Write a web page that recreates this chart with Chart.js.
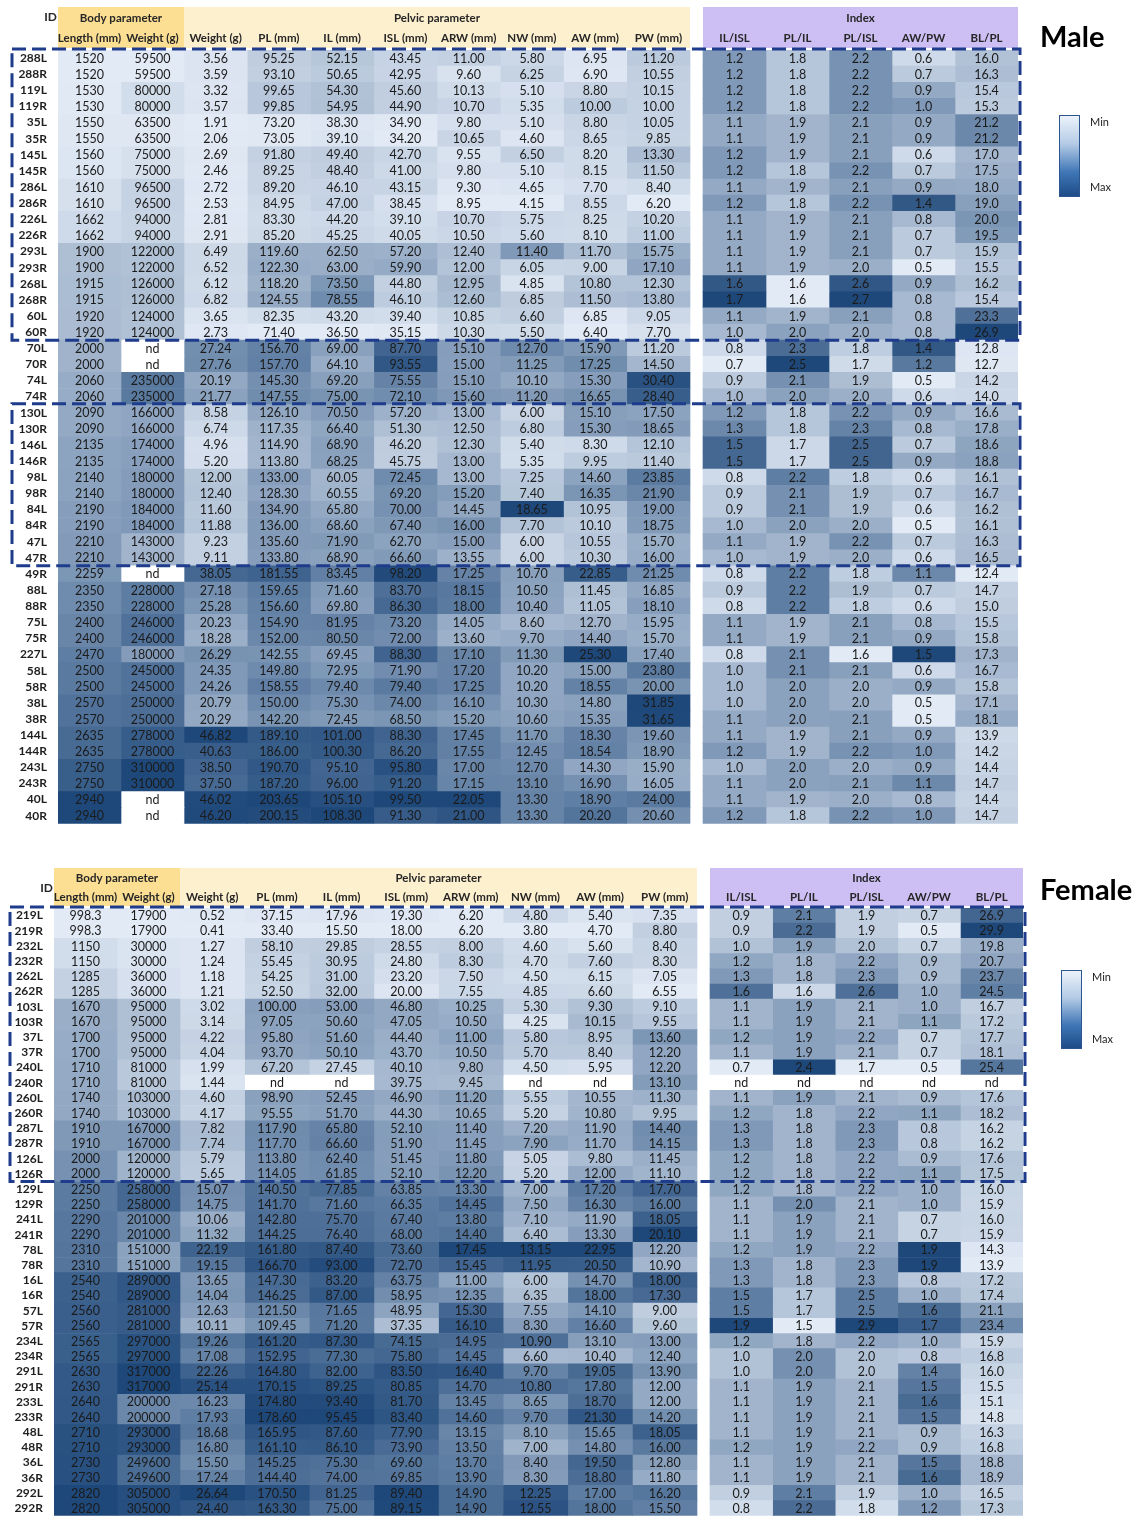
<!DOCTYPE html>
<html>
<head>
<meta charset="utf-8">
<title>Body and pelvic parameters</title>
<script src="https://cdn.jsdelivr.net/npm/chart.js@4.4.1/dist/chart.umd.min.js"></script>
<style>
  html, body { margin: 0; padding: 0; background: #ffffff; overflow: hidden; }
  body { width: 1141px; height: 1522px; position: relative; }
  canvas { position: absolute; left: 0; }
  #maleChart { top: 0; }
  #femaleChart { top: 858px; }
</style>
</head>
<body>
<canvas id="maleChart" width="1141" height="834"></canvas>
<canvas id="femaleChart" width="1141" height="668"></canvas>
<script>
// ---- Column headings ----
const groupLabels = ['Body parameter', 'Pelvic parameter', 'Index'];
const columnLabels = ['Length (mm)', 'Weight (g)', 'Weight (g)', 'PL (mm)', 'IL (mm)', 'ISL (mm)',
  'ARW (mm)', 'NW (mm)', 'AW (mm)', 'PW (mm)', 'IL/ISL', 'PL/IL', 'PL/ISL', 'AW/PW', 'BL/PL'];

// ---- Male ----
const maleIds = ['288L','288R','119L','119R','35L','35R','145L','145R','286L','286R','226L','226R',
  '293L','293R','268L','268R','60L','60R','70L','70R','74L','74R','130L','130R','146L','146R',
  '98L','98R','84L','84R','47L','47R','49R','88L','88R','75L','75R','227L','58L','58R','38L','38R',
  '144L','144R','243L','243R','40L','40R'];
const maleLength = [1520,1520,1530,1530,1550,1550,1560,1560,1610,1610,1662,1662,1900,1900,1915,1915,
  1920,1920,2000,2000,2060,2060,2090,2090,2135,2135,2140,2140,2190,2190,2210,2210,2259,2350,2350,
  2400,2400,2470,2500,2500,2570,2570,2635,2635,2750,2750,2940,2940];
const maleBodyWeight = [59500,59500,80000,80000,63500,63500,75000,75000,96500,96500,94000,94000,
  122000,122000,126000,126000,124000,124000,null,null,235000,235000,166000,166000,174000,174000,
  180000,180000,184000,184000,143000,143000,null,228000,228000,246000,246000,180000,245000,245000,
  250000,250000,278000,278000,310000,310000,null,null];
const malePelvisWeight = [3.56,3.59,3.32,3.57,1.91,2.06,2.69,2.46,2.72,2.53,2.81,2.91,6.49,6.52,6.12,
  6.82,3.65,2.73,27.24,27.76,20.19,21.77,8.58,6.74,4.96,5.20,12.00,12.40,11.60,11.88,9.23,9.11,38.05,
  27.18,25.28,20.23,18.28,26.29,24.35,24.26,20.79,20.29,46.82,40.63,38.50,37.50,46.02,46.20];
const malePL = [95.25,93.10,99.65,99.85,73.20,73.05,91.80,89.25,89.20,84.95,83.30,85.20,119.60,122.30,
  118.20,124.55,82.35,71.40,156.70,157.70,145.30,147.55,126.10,117.35,114.90,113.80,133.00,128.30,
  134.90,136.00,135.60,133.80,181.55,159.65,156.60,154.90,152.00,142.55,149.80,158.55,150.00,142.20,
  189.10,186.00,190.70,187.20,203.65,200.15];
const maleIL = [52.15,50.65,54.30,54.95,38.30,39.10,49.40,48.40,46.10,47.00,44.20,45.25,62.50,63.00,
  73.50,78.55,43.20,36.50,69.00,64.10,69.20,75.00,70.50,66.40,68.90,68.25,60.05,60.55,65.80,68.60,
  71.90,68.90,83.45,71.60,69.80,81.95,80.50,69.45,72.95,79.40,75.30,72.45,101.00,100.30,95.10,96.00,
  105.10,108.30];
const maleISL = [43.45,42.95,45.60,44.90,34.90,34.20,42.70,41.00,43.15,38.45,39.10,40.05,57.20,59.90,
  44.80,46.10,39.40,35.15,87.70,93.55,75.55,72.10,57.20,51.30,46.20,45.75,72.45,69.20,70.00,67.40,
  62.70,66.60,98.20,83.70,86.30,73.20,72.00,88.30,71.90,79.40,74.00,68.50,88.30,86.20,95.80,91.20,
  99.50,91.30];
const maleARW = [11.00,9.60,10.13,10.70,9.80,10.65,9.55,9.80,9.30,8.95,10.70,10.50,12.40,12.00,12.95,
  12.60,10.85,10.30,15.10,15.00,15.10,15.60,13.00,12.50,12.30,13.00,13.00,15.20,14.45,16.00,15.00,
  13.55,17.25,18.15,18.00,14.05,13.60,17.10,17.20,17.25,16.10,15.20,17.45,17.55,17.00,17.15,22.05,21.00];
const maleNW = [5.80,6.25,5.10,5.35,5.10,4.60,6.50,5.10,4.65,4.15,5.75,5.60,11.40,6.05,4.85,6.85,6.60,
  5.50,12.70,11.25,10.10,11.20,6.00,6.80,5.40,5.35,7.25,7.40,18.65,7.70,6.00,6.00,10.70,10.50,10.40,
  8.60,9.70,11.30,10.20,10.20,10.30,10.60,11.70,12.45,12.70,13.10,13.30,13.30];
const maleAW = [6.95,6.90,8.80,10.00,8.80,8.65,8.20,8.15,7.70,8.55,8.25,8.10,11.70,9.00,10.80,11.50,
  6.85,6.40,15.90,17.25,15.30,16.65,15.10,15.30,8.30,9.95,14.60,16.35,10.95,10.10,10.55,10.30,22.85,
  11.45,11.05,12.70,14.40,25.30,15.00,18.55,14.80,15.35,18.30,18.54,14.30,16.90,18.90,20.20];
const malePW = [11.20,10.55,10.15,10.00,10.05,9.85,13.30,11.50,8.40,6.20,10.20,11.00,15.75,17.10,12.30,
  13.80,9.05,7.70,11.20,14.50,30.40,28.40,17.50,18.65,12.10,11.40,23.85,21.90,19.00,18.75,15.70,16.00,
  21.25,16.85,18.10,15.95,15.70,17.40,23.80,20.00,31.85,31.65,19.60,18.90,15.90,16.05,24.00,20.60];
const maleILISL = [1.2,1.2,1.2,1.2,1.1,1.1,1.2,1.2,1.1,1.2,1.1,1.1,1.1,1.1,1.6,1.7,1.1,1.0,0.8,0.7,
  0.9,1.0,1.2,1.3,1.5,1.5,0.8,0.9,0.9,1.0,1.1,1.0,0.8,0.9,0.8,1.1,1.1,0.8,1.0,1.0,1.0,1.1,1.1,1.2,
  1.0,1.1,1.1,1.2];
const malePLIL = [1.8,1.8,1.8,1.8,1.9,1.9,1.9,1.8,1.9,1.8,1.9,1.9,1.9,1.9,1.6,1.6,1.9,2.0,2.3,2.5,
  2.1,2.0,1.8,1.8,1.7,1.7,2.2,2.1,2.1,2.0,1.9,1.9,2.2,2.2,2.2,1.9,1.9,2.1,2.1,2.0,2.0,2.0,1.9,1.9,
  2.0,2.0,1.9,1.8];
const malePLISL = [2.2,2.2,2.2,2.2,2.1,2.1,2.1,2.2,2.1,2.2,2.1,2.1,2.1,2.0,2.6,2.7,2.1,2.0,1.8,1.7,
  1.9,2.0,2.2,2.3,2.5,2.5,1.8,1.9,1.9,2.0,2.2,2.0,1.8,1.9,1.8,2.1,2.1,1.6,2.1,2.0,2.0,2.1,2.1,2.2,
  2.0,2.1,2.0,2.2];
const maleAWPW = [0.6,0.7,0.9,1.0,0.9,0.9,0.6,0.7,0.9,1.4,0.8,0.7,0.7,0.5,0.9,0.8,0.8,0.8,1.4,1.2,
  0.5,0.6,0.9,0.8,0.7,0.9,0.6,0.7,0.6,0.5,0.7,0.6,1.1,0.7,0.6,0.8,0.9,1.5,0.6,0.9,0.5,0.5,0.9,1.0,
  0.9,1.1,0.8,1.0];
const maleBLPL = [16.0,16.3,15.4,15.3,21.2,21.2,17.0,17.5,18.0,19.0,20.0,19.5,15.9,15.5,16.2,15.4,
  23.3,26.9,12.8,12.7,14.2,14.0,16.6,17.8,18.6,18.8,16.1,16.7,16.2,16.1,16.3,16.5,12.4,14.7,15.0,
  15.5,15.8,17.3,16.7,15.8,17.1,18.1,13.9,14.2,14.4,14.7,14.4,14.7];

// ---- Female ----
const femaleIds = ['219L','219R','232L','232R','262L','262R','103L','103R','37L','37R','240L','240R',
  '260L','260R','287L','287R','126L','126R','129L','129R','241L','241R','78L','78R','16L','16R',
  '57L','57R','234L','234R','291L','291R','233L','233R','48L','48R','36L','36R','292L','292R'];
const femaleLength = [998.3,998.3,1150,1150,1285,1285,1670,1670,1700,1700,1710,1710,1740,1740,1910,
  1910,2000,2000,2250,2250,2290,2290,2310,2310,2540,2540,2560,2560,2565,2565,2630,2630,2640,2640,
  2710,2710,2730,2730,2820,2820];
const femaleBodyWeight = [17900,17900,30000,30000,36000,36000,95000,95000,95000,95000,81000,81000,
  103000,103000,167000,167000,120000,120000,258000,258000,201000,201000,151000,151000,289000,289000,
  281000,281000,297000,297000,317000,317000,200000,200000,293000,293000,249600,249600,305000,305000];
const femalePelvisWeight = [0.52,0.41,1.27,1.24,1.18,1.21,3.02,3.14,4.22,4.04,1.99,1.44,4.60,4.17,
  7.82,7.74,5.79,5.65,15.07,14.75,10.06,11.32,22.19,19.15,13.65,14.04,12.63,10.11,19.26,17.08,22.26,
  25.14,16.23,17.93,18.68,16.80,15.50,17.24,26.64,24.40];
const femalePL = [37.15,33.40,58.10,55.45,54.25,52.50,100.00,97.05,95.80,93.70,67.20,null,98.90,95.55,
  117.90,117.70,113.80,114.05,140.50,141.70,142.80,144.25,161.80,166.70,147.30,146.25,121.50,109.45,
  161.20,152.95,164.80,170.15,174.80,178.60,165.95,161.10,145.25,144.40,170.50,163.30];
const femaleIL = [17.96,15.50,29.85,30.95,31.00,32.00,53.00,50.60,51.60,50.10,27.45,null,52.45,51.70,
  65.80,66.60,62.40,61.85,77.85,71.60,75.70,76.40,87.40,93.00,83.20,87.00,71.65,71.20,87.30,77.30,
  82.00,89.25,93.40,95.45,87.60,86.10,75.30,74.00,81.25,75.00];
const femaleISL = [19.30,18.00,28.55,24.80,23.20,20.00,46.80,47.05,44.40,43.70,40.10,39.75,46.90,44.30,
  52.10,51.90,51.45,52.10,63.85,66.35,67.40,68.00,73.60,72.70,63.75,58.95,48.95,37.35,74.15,75.80,
  83.50,80.85,81.70,83.40,77.90,73.90,69.60,69.85,89.40,89.15];
const femaleARW = [6.20,6.20,8.00,8.30,7.50,7.55,10.25,10.50,11.00,10.50,9.80,9.45,11.20,10.65,11.40,
  11.45,11.80,12.20,13.30,14.45,13.80,14.40,17.45,15.45,11.00,12.35,15.30,16.10,14.95,14.45,16.40,
  14.70,13.45,14.60,13.15,13.50,13.70,13.90,14.90,14.90];
const femaleNW = [4.80,3.80,4.60,4.70,4.50,4.85,5.30,4.25,5.80,5.70,4.50,null,5.55,5.20,7.20,7.90,5.05,
  5.20,7.00,7.50,7.10,6.40,13.15,11.95,6.00,6.35,7.55,8.30,10.90,6.60,9.70,10.80,8.65,9.70,8.10,7.00,
  8.40,8.30,12.25,12.55];
const femaleAW = [5.40,4.70,5.60,7.60,6.15,6.60,9.30,10.15,8.95,8.40,5.95,null,10.55,10.80,11.90,11.70,
  9.80,12.00,17.20,16.30,11.90,13.30,22.95,20.50,14.70,18.00,14.10,16.60,13.10,10.40,19.05,17.80,
  18.70,21.30,15.65,14.80,19.50,18.80,17.00,18.00];
const femalePW = [7.35,8.80,8.40,8.30,7.05,6.55,9.10,9.55,13.60,12.20,12.20,13.10,11.30,9.95,14.40,
  14.15,11.45,11.10,17.70,16.00,18.05,20.10,12.20,10.90,18.00,17.30,9.00,9.60,13.00,12.40,13.90,12.00,
  12.00,14.20,18.05,16.00,12.80,11.80,16.20,15.50];
const femaleILISL = [0.9,0.9,1.0,1.2,1.3,1.6,1.1,1.1,1.2,1.1,0.7,null,1.1,1.2,1.3,1.3,1.2,1.2,1.2,1.1,
  1.1,1.1,1.2,1.3,1.3,1.5,1.5,1.9,1.2,1.0,1.0,1.1,1.1,1.1,1.1,1.2,1.1,1.1,0.9,0.8];
const femalePLIL = [2.1,2.2,1.9,1.8,1.8,1.6,1.9,1.9,1.9,1.9,2.4,null,1.9,1.8,1.8,1.8,1.8,1.8,1.8,2.0,
  1.9,1.9,1.9,1.8,1.8,1.7,1.7,1.5,1.8,2.0,2.0,1.9,1.9,1.9,1.9,1.9,1.9,1.9,2.1,2.2];
const femalePLISL = [1.9,1.9,2.0,2.2,2.3,2.6,2.1,2.1,2.2,2.1,1.7,null,2.1,2.2,2.3,2.3,2.2,2.2,2.2,2.1,
  2.1,2.1,2.2,2.3,2.3,2.5,2.5,2.9,2.2,2.0,2.0,2.1,2.1,2.1,2.1,2.2,2.1,2.1,1.9,1.8];
const femaleAWPW = [0.7,0.5,0.7,0.9,0.9,1.0,1.0,1.1,0.7,0.7,0.5,null,0.9,1.1,0.8,0.8,0.9,1.1,1.0,1.0,
  0.7,0.7,1.9,1.9,0.8,1.0,1.6,1.7,1.0,0.8,1.4,1.5,1.6,1.5,0.9,0.9,1.5,1.6,1.0,1.2];
const femaleBLPL = [26.9,29.9,19.8,20.7,23.7,24.5,16.7,17.2,17.7,18.1,25.4,null,17.6,18.2,16.2,16.2,
  17.6,17.5,16.0,15.9,16.0,15.9,14.3,13.9,17.2,17.4,21.1,23.4,15.9,16.8,16.0,15.5,15.1,14.8,16.3,
  16.8,18.8,18.9,16.5,17.3];

// Row ranges (first index, last index) outlined with a dashed frame
const maleFramedRows = [[0, 17], [22, 31]];
const femaleFramedRows = [[0, 17]];

// ---- Helpers ----
const FONT = 'Lato, "Open Sans", sans-serif';
const LIGHT = [226, 234, 245];
const DARK = [30, 72, 122];

function cellColor(v, min, max) {
  if (v === null || v === undefined) return '#ffffff';
  const t = max > min ? (v - min) / (max - min) : 0;
  const c = LIGHT.map((l, i) => Math.round(l + (DARK[i] - l) * t));
  return `rgb(${c[0]},${c[1]},${c[2]})`;
}

// Display format for each column: null = as given, otherwise fixed decimals
const columnDecimals = [null, null, 2, 2, 2, 2, 2, 2, 2, 2, 1, 1, 1, 1, 1];
function formatValue(v, ci) {
  if (v === null || v === undefined) return 'nd';
  const d = columnDecimals[ci];
  return d === null ? String(v) : v.toFixed(d);
}

// Column spans in x-scale units for a table layout
function columnSpans(lay) {
  const spans = [];
  for (let i = 0; i < 2; i++) spans.push([lay.left + i * lay.bodyW, lay.left + (i + 1) * lay.bodyW]);
  for (let i = 0; i < 8; i++) spans.push([lay.pelvicStart + i * lay.pelvicW, lay.pelvicStart + (i + 1) * lay.pelvicW]);
  for (let i = 0; i < 5; i++) spans.push([lay.indexStart + i * lay.indexW, lay.indexStart + (i + 1) * lay.indexW]);
  return spans;
}

// Header bands, dashed frames, cell text, title and colour key
const tablePlugin = {
  id: 'tableDecor',
  beforeDatasetsDraw(chart) {
    const o = chart.options.plugins.tableDecor;
    const lay = o.layout;
    const ctx = chart.ctx;
    const xs = chart.scales.x;
    const top = chart.chartArea.top;
    const h1 = top - o.headerTop;      // top of group band
    const rowH = o.headerRowH;
    const px = v => xs.getPixelForValue(v);
    const spans = o.spans;
    const pelvicEnd = spans[9][1];
    const end = spans[14][1];
    ctx.save();
    // bands
    ctx.fillStyle = '#fcdf93';
    ctx.fillRect(px(lay.left), h1, px(lay.pelvicStart) - px(lay.left), top - 2 - h1);
    ctx.fillStyle = '#fdf0cf';
    ctx.fillRect(px(lay.pelvicStart), h1, px(pelvicEnd) - px(lay.pelvicStart), top - 2 - h1);
    ctx.fillStyle = '#cdbff4';
    ctx.fillRect(px(lay.indexStart), h1, px(end) - px(lay.indexStart), top - 2 - h1);
    // group labels
    ctx.fillStyle = '#262626';
    ctx.font = `bold 11.5px ${FONT}`;
    ctx.textAlign = 'center';
    ctx.textBaseline = 'middle';
    const g1y = h1 + rowH / 2 + 1;
    ctx.fillText(groupLabels[0], (px(lay.left) + px(lay.pelvicStart)) / 2, g1y);
    ctx.fillText(groupLabels[1], (px(lay.pelvicStart) + px(pelvicEnd)) / 2, g1y);
    ctx.fillText(groupLabels[2], (px(lay.indexStart) + px(end)) / 2, g1y);
    // column labels
    const g2y = h1 + rowH * 1.5 + 1;
    spans.forEach((s, ci) => {
      ctx.fillText(columnLabels[ci], (px(s[0]) + px(s[1])) / 2, g2y);
    });
    // ID heading
    ctx.textAlign = 'right';
    ctx.font = `bold 12px ${FONT}`;
    ctx.fillText('ID', o.idX, h1 + o.idDy);
    ctx.restore();
  },
  afterDatasetsDraw(chart) {
    const o = chart.options.plugins.tableDecor;
    const ctx = chart.ctx;
    const ys = chart.scales.y;
    const xs = chart.scales.x;
    ctx.save();
    // cell values
    ctx.font = `12.5px ${FONT}`;
    ctx.fillStyle = '#1b1b1b';
    ctx.textAlign = 'center';
    ctx.textBaseline = 'middle';
    chart.data.datasets.forEach((ds, ci) => {
      const meta = chart.getDatasetMeta(ci);
      meta.data.forEach((el, ri) => {
        const cx = (el.x + el.base) / 2;
        ctx.fillText(formatValue(ds.cellValues[ri], ci), cx, el.y + 0.5);
      });
    });
    // dashed frames around row groups
    const rowH = ys.getPixelForValue(1) - ys.getPixelForValue(0);
    const right = xs.getPixelForValue(o.spans[14][1]) + 2;
    ctx.strokeStyle = '#1f3c8c';
    ctx.lineWidth = 3;
    ctx.setLineDash([14, 6]);
    o.framed.forEach(([a, b]) => {
      const y0 = ys.getPixelForValue(a) - rowH / 2 - 1;
      const y1 = ys.getPixelForValue(b) + rowH / 2;
      ctx.strokeRect(o.frameLeft, y0, right - o.frameLeft, y1 - y0);
    });
    ctx.setLineDash([]);
    // title
    ctx.fillStyle = '#000000';
    ctx.font = `bold 29px ${FONT}`;
    ctx.textAlign = 'left';
    ctx.fillText(o.title, o.titleX, o.titleY);
    // colour key
    const k = o.key;
    const grad = ctx.createLinearGradient(0, k.y, 0, k.y + k.h);
    grad.addColorStop(0, '#eef4fb');
    grad.addColorStop(0.35, '#b4cbe6');
    grad.addColorStop(0.7, '#3f76b6');
    grad.addColorStop(1, '#1c4a86');
    ctx.fillStyle = grad;
    ctx.fillRect(k.x, k.y, k.w, k.h);
    ctx.strokeStyle = '#2c5690';
    ctx.lineWidth = 1;
    ctx.strokeRect(k.x + 0.5, k.y + 0.5, k.w - 1, k.h - 1);
    ctx.fillStyle = '#222222';
    ctx.font = `11px ${FONT}`;
    ctx.fillText('Min', k.x + k.w + 10, k.y + 7);
    ctx.fillText('Max', k.x + k.w + 10, k.y + k.h - 10);
    ctx.restore();
  }
};

function buildTable(canvasId, ids, columns, lay, decor) {
  const spans = columnSpans(lay);
  const end = spans[14][1];
  const datasets = columns.map((vals, ci) => {
    const present = vals.filter(v => v !== null);
    const min = Math.min(...present);
    const max = Math.max(...present);
    return {
      label: columnLabels[ci],
      data: ids.map(() => spans[ci]),
      cellValues: vals,
      backgroundColor: vals.map(v => cellColor(v, min, max)),
      borderWidth: 0,
      barPercentage: 1,
      categoryPercentage: 1,
      grouped: false
    };
  });
  return new Chart(document.getElementById(canvasId), {
    type: 'bar',
    data: { labels: ids, datasets },
    options: {
      indexAxis: 'y',
      responsive: false,
      animation: false,
      events: [],
      layout: { padding: { top: 50, bottom: decor.padBottom, left: 0, right: 1141 - end } },
      plugins: {
        legend: { display: false },
        tooltip: { enabled: false },
        tableDecor: Object.assign({ layout: lay, spans }, decor)
      },
      scales: {
        x: { type: 'linear', display: false, min: lay.left, max: end },
        y: {
          type: 'category',
          grid: { display: false },
          border: { display: false },
          ticks: {
            autoSkip: false,
            padding: 3,
            color: '#1e1e1e',
            font: { family: FONT, weight: 'bold', size: 12 }
          },
          afterFit(scale) { scale.width = lay.left; }
        }
      }
    },
    plugins: [tablePlugin]
  });
}

buildTable('maleChart', maleIds,
  [maleLength, maleBodyWeight, malePelvisWeight, malePL, maleIL, maleISL, maleARW, maleNW, maleAW,
   malePW, maleILISL, malePLIL, malePLISL, maleAWPW, maleBLPL],
  { left: 58, bodyW: 63, pelvicStart: 184, pelvicW: 63.25, indexStart: 703, indexW: 63 },
  { padBottom: 8, headerTop: 43, headerRowH: 20, idX: 57, idDy: 10,
    framed: maleFramedRows, frameLeft: 12, title: 'Male', titleX: 1040, titleY: 38,
    key: { x: 1059, y: 115, w: 21, h: 82 } });

buildTable('femaleChart', femaleIds,
  [femaleLength, femaleBodyWeight, femalePelvisWeight, femalePL, femaleIL, femaleISL, femaleARW,
   femaleNW, femaleAW, femalePW, femaleILISL, femalePLIL, femalePLISL, femaleAWPW, femaleBLPL],
  { left: 54, bodyW: 63, pelvicStart: 180, pelvicW: 64.625, indexStart: 710, indexW: 62.6 },
  { padBottom: 2, headerTop: 40, headerRowH: 19, idX: 53, idDy: 20,
    framed: femaleFramedRows, frameLeft: 10, title: 'Female', titleX: 1040, titleY: 33,
    key: { x: 1061, y: 112, w: 21, h: 79 } });
</script>
</body>
</html>
